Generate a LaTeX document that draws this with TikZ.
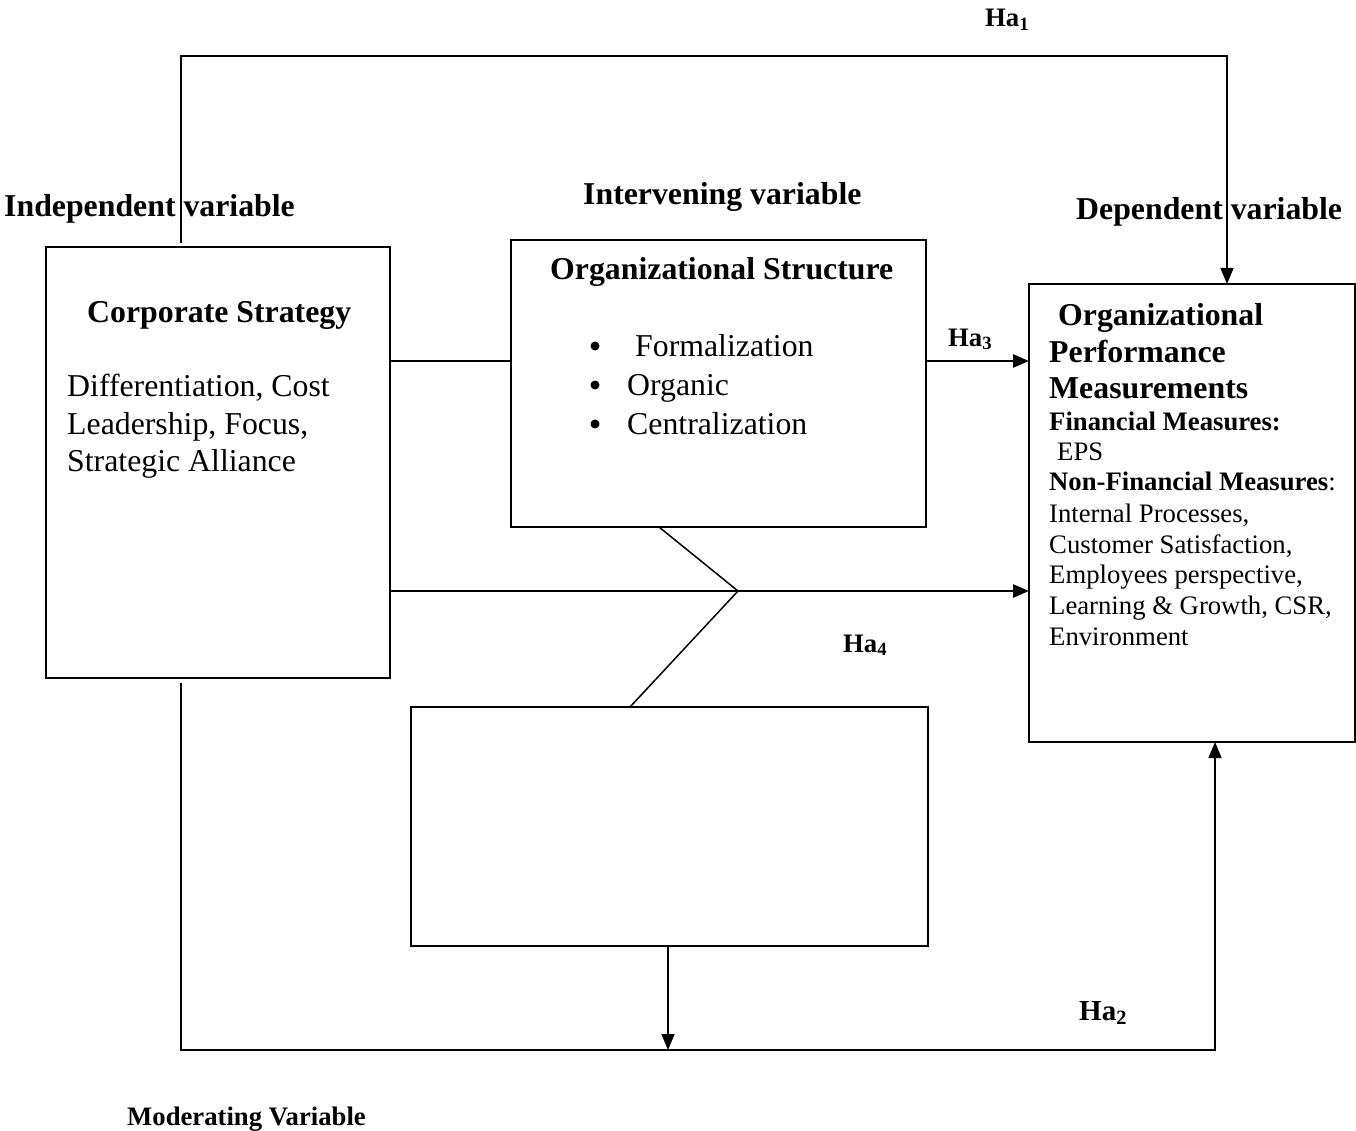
\documentclass[tikz,border=0pt]{standalone}
\usepackage{fontspec}
\setmainfont{Liberation Serif}
\usetikzlibrary{arrows.meta,calc}
\begin{document}
\begin{tikzpicture}[x=1pt,y=-1pt,
  box/.style={draw, line width=1.4pt, anchor=north west, inner sep=0pt, outer sep=0pt},
  conn/.style={line width=1.5pt},
  thick conn/.style={line width=2.5pt},
  arr/.style={-{Triangle[length=16pt,width=13pt]}},
  big/.style={font=\fontsize{31.8}{37}\selectfont},
  bigb/.style={font=\fontsize{31.8}{37}\selectfont\bfseries},
  small/.style={font=\fontsize{26.7}{31}\selectfont},
  smallb/.style={font=\fontsize{26.7}{31}\selectfont\bfseries},
  txt/.style={anchor=base west, inner sep=0pt},
  bullet/.style={circle, fill, inner sep=0pt, minimum size=9pt}]
\useasboundingbox (0,0) rectangle (1356,1131);

% boxes
\node[box, minimum width=344pt, minimum height=431pt] (cs) at (46,247) {};
\node[box, minimum width=415pt, minimum height=287pt] (os) at (511,240) {};
\node[box, minimum width=326pt, minimum height=458pt] (opm) at (1029,284) {};
\node[box, minimum width=517pt, minimum height=239pt] (mv) at (411,707) {};

% route coordinates
\coordinate (c1) at (181,56);
\coordinate (c2) at (1227,56);
\coordinate (c3) at (181,1050);
\coordinate (c4) at (1215,1050);
\coordinate (h1) at (0,361);
\coordinate (h2) at (0,591);
\coordinate (k) at (738,591);
\coordinate (d1) at (659,0);
\coordinate (d2) at (630,0);
\coordinate (m) at (668,1050);

% connectors
\draw[conn, arr] ($(c1 |- cs.north)+(0,-4)$) -- (c1) -- (c2) -- (c2 |- opm.north);
\draw[conn, arr] ($(c3 |- cs.south)+(0,5)$) -- (c3) -- (c4) -- (c4 |- opm.south);
\draw[conn] (cs.east |- h1) -- (os.west |- h1);
\draw[thick conn, arr] (os.east |- h1) -- (opm.west |- h1);
\draw[thick conn, arr] (cs.east |- h2) -- (opm.west |- h2);
\draw[conn] (os.south -| d1) -- (k) -- (mv.north -| d2);
\draw[conn, arr] (mv.south -| m) -- (m);

% headings
\node[txt, bigb] (iv) at (4,217) {Independent variable};
\node[txt, bigb] (itv) at (583,205) {Intervening variable};
\node[txt, bigb] (dv) at (1076,220) {Dependent variable};
\node[txt, smallb] (mvl) at (127,1125) {Moderating Variable};

% hypothesis labels
\node[txt, smallb] (ha1) at (985,27) {Ha\textsubscript{1}};
\node[txt, smallb] (ha3) at (948,346) {Ha\textsubscript{3}};
\node[txt, smallb] (ha4) at (843,652) {Ha\textsubscript{4}};
\node[txt, font=\fontsize{29}{31}\selectfont\bfseries] (ha2) at (1079,1020) {Ha\textsubscript{2}};

% corporate strategy text
\node[txt, bigb] (cst) at (87,323) {Corporate Strategy};
\node[txt, big] (cs1) at (67,396) {Differentiation, Cost};
\node[txt, big] (cs2) at (67,434) {Leadership, Focus,};
\node[txt, big] (cs3) at (67,471) {Strategic Alliance};

% organizational structure text
\node[txt, bigb] (ost) at (550,280) {Organizational Structure};
\node[bullet] (b1) at (595,346) {};
\node[bullet] (b2) at (595,385) {};
\node[bullet] (b3) at (595,424) {};
\node[txt, big] (os1) at (635,356) {Formalization};
\node[txt, big] (os2) at (627,395) {Organic};
\node[txt, big] (os3) at (627,434) {Centralization};

% organizational performance text
\node[txt, bigb] (op1) at (1058,325) {Organizational};
\node[txt, bigb] (op2) at (1049,362) {Performance};
\node[txt, bigb] (op3) at (1049,398) {Measurements};
\node[txt, smallb] (f1) at (1049,430) {Financial Measures:};
\node[txt, small] (f2) at (1057,460) {EPS};
\node[txt, small] (f3) at (1049,490) {\textbf{Non-Financial Measures}:};
\node[txt, small] (f4) at (1049,522) {Internal Processes,};
\node[txt, small] (f5) at (1049,553) {Customer Satisfaction,};
\node[txt, small] (f6) at (1049,583) {Employees perspective,};
\node[txt, small] (f7) at (1049,614) {Learning \& Growth, CSR,};
\node[txt, small] (f8) at (1049,645) {Environment};
\end{tikzpicture}
\end{document}
